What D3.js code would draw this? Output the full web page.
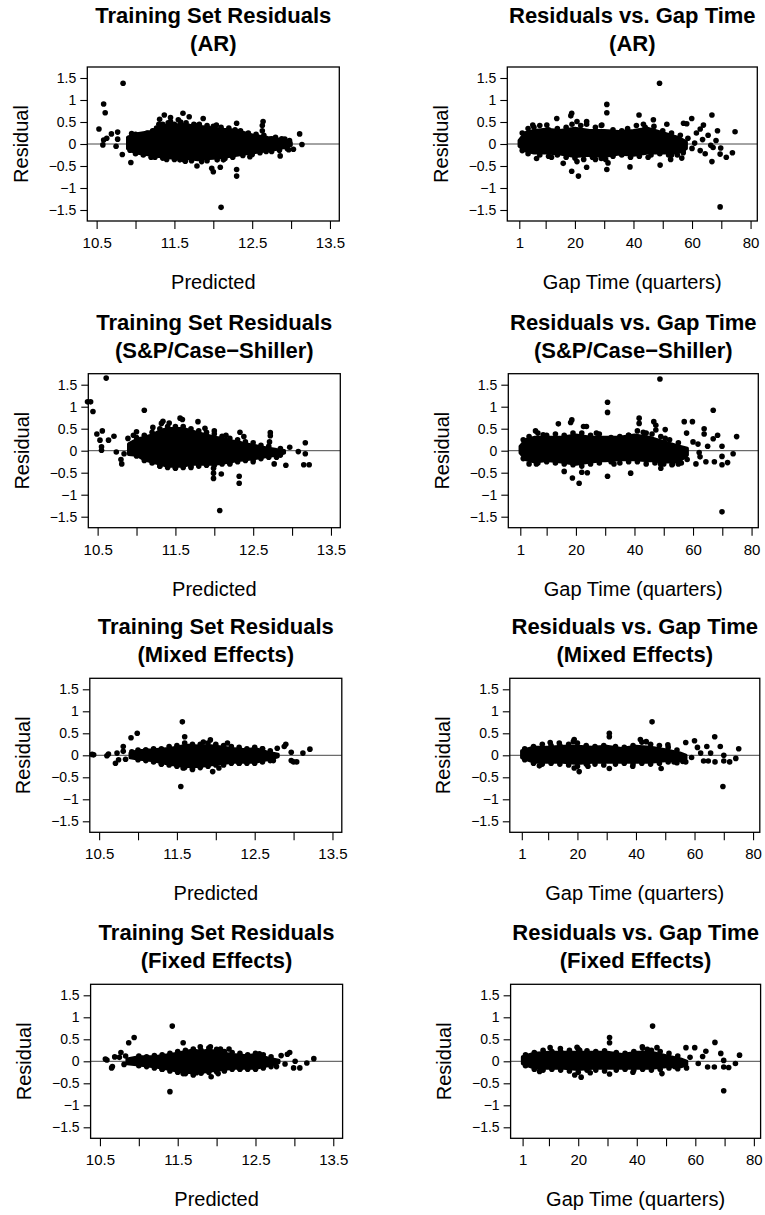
<!DOCTYPE html>
<html><head><meta charset="utf-8">
<script src="https://cdn.jsdelivr.net/npm/d3@7"></script>
<style>
body{margin:0;background:#fff}
svg{display:block}
text{font-family:"Liberation Sans",Arial,Helvetica,sans-serif;fill:#000}
</style>
</head><body>
<svg id="c" width="765" height="1215"></svg>
<script>
// ---------- text ----------
const rowModels = ["(AR)", "(S&P/Case\u2212Shiller)", "(Mixed Effects)", "(Fixed Effects)"];
const leftTitle = "Training Set Residuals";
const rightTitle = "Residuals vs. Gap Time";
const leftXLabel = "Predicted";
const rightXLabel = "Gap Time (quarters)";
const yLabel = "Residual";

// ---------- ticks ----------
const yTicks = [-1.5, -1, -0.5, 0, 0.5, 1, 1.5];
const predTicks = [10.5, 11, 11.5, 12, 12.5, 13, 13.5];
const predTickLabels = [10.5, 11.5, 12.5, 13.5];
const gapTicks = [1, 10, 20, 30, 40, 50, 60, 70, 80];
const gapTickLabels = [1, 20, 40, 60, 80];

// ---------- data: dense core of each cloud [x, lowResidual, highResidual] ----------
const arPredCore = [[10.9,-0.1,0.15],[11.0,-0.2,0.22],[11.1,-0.22,0.25],[11.2,-0.25,0.28],[11.3,-0.28,0.38],[11.4,-0.3,0.42],[11.5,-0.32,0.42],[11.6,-0.33,0.45],[11.7,-0.33,0.42],[11.8,-0.35,0.4],[11.9,-0.33,0.38],[12.0,-0.32,0.36],[12.1,-0.3,0.33],[12.2,-0.28,0.32],[12.3,-0.25,0.3],[12.4,-0.22,0.25],[12.5,-0.2,0.2],[12.6,-0.17,0.17],[12.7,-0.14,0.14],[12.8,-0.12,0.12],[12.9,-0.08,0.08],[13.0,-0.03,0.03]];
const arGapCore = [[1,-0.05,0.08],[3,-0.15,0.25],[6,-0.2,0.3],[10,-0.2,0.33],[15,-0.22,0.3],[20,-0.28,0.35],[25,-0.25,0.3],[30,-0.28,0.3],[35,-0.22,0.28],[40,-0.25,0.3],[45,-0.2,0.35],[50,-0.2,0.25],[55,-0.2,0.15],[58,-0.1,0.05]];
const spPredCore = [[10.9,-0.08,0.15],[11.0,-0.1,0.25],[11.1,-0.2,0.3],[11.2,-0.25,0.35],[11.3,-0.3,0.45],[11.4,-0.35,0.5],[11.5,-0.35,0.5],[11.6,-0.35,0.5],[11.7,-0.3,0.45],[11.8,-0.3,0.4],[11.9,-0.3,0.35],[12.0,-0.3,0.3],[12.1,-0.28,0.28],[12.2,-0.25,0.22],[12.3,-0.22,0.2],[12.4,-0.2,0.15],[12.5,-0.18,0.12],[12.6,-0.15,0.08],[12.7,-0.12,0.05],[12.8,-0.1,0.02],[12.9,-0.05,0.0]];
const spGapCore = [[1,-0.05,0.1],[3,-0.2,0.25],[6,-0.25,0.3],[10,-0.22,0.3],[15,-0.25,0.3],[20,-0.3,0.35],[25,-0.25,0.3],[30,-0.22,0.3],[35,-0.2,0.3],[40,-0.2,0.35],[45,-0.22,0.3],[50,-0.25,0.2],[55,-0.25,0.1],[58,-0.1,0.05]];
const mePredCore = [[10.9,-0.05,0.05],[11.0,-0.08,0.1],[11.2,-0.12,0.12],[11.4,-0.2,0.15],[11.5,-0.22,0.18],[11.6,-0.25,0.22],[11.7,-0.25,0.22],[11.8,-0.25,0.2],[11.9,-0.22,0.22],[12.0,-0.2,0.2],[12.1,-0.18,0.18],[12.2,-0.15,0.15],[12.4,-0.15,0.12],[12.5,-0.15,0.15],[12.6,-0.12,0.1],[12.7,-0.08,0.05],[12.8,-0.03,0.02]];
const meGapCore = [[1,-0.05,0.1],[5,-0.15,0.18],[10,-0.15,0.18],[15,-0.15,0.2],[20,-0.18,0.2],[25,-0.15,0.18],[30,-0.15,0.2],[35,-0.15,0.15],[40,-0.15,0.2],[45,-0.15,0.18],[50,-0.12,0.12],[55,-0.12,0.05],[57,-0.08,0.0]];
const fePredCore = [[10.85,-0.05,0.05],[11.0,-0.08,0.1],[11.2,-0.12,0.1],[11.4,-0.18,0.15],[11.5,-0.22,0.18],[11.6,-0.25,0.22],[11.7,-0.25,0.25],[11.8,-0.25,0.22],[11.9,-0.22,0.25],[12.0,-0.2,0.22],[12.1,-0.18,0.18],[12.2,-0.15,0.15],[12.4,-0.15,0.12],[12.5,-0.15,0.15],[12.6,-0.12,0.1],[12.7,-0.08,0.05],[12.8,-0.03,0.02]];
const feGapCore = [[1,-0.05,0.1],[5,-0.15,0.18],[10,-0.15,0.2],[15,-0.15,0.2],[20,-0.18,0.2],[25,-0.15,0.2],[30,-0.15,0.2],[35,-0.15,0.15],[40,-0.15,0.2],[45,-0.15,0.2],[50,-0.12,0.12],[55,-0.12,0.05],[57,-0.08,0.0]];

// ---------- data: points on the ragged edge of each cloud [x, residual] ----------
const arPredEdge = [[11.0,0.22],[11.05,0.2],[11.15,0.25],[11.22,0.3],[11.35,0.45],[11.42,0.48],[11.5,0.45],[11.58,0.5],[11.65,0.48],[11.75,0.45],[11.82,0.45],[11.92,0.42],[12.0,0.4],[12.1,0.38],[12.2,0.36],[12.28,0.32],[12.35,0.3],[12.45,0.25],[12.55,0.22],[12.65,0.2],[12.8,0.15],[12.88,0.12],[12.98,0.08],[11.0,-0.22],[11.1,-0.25],[11.25,-0.3],[11.35,-0.32],[11.5,-0.35],[11.62,-0.36],[11.72,-0.38],[11.85,-0.4],[11.92,-0.38],[12.05,-0.36],[12.15,-0.33],[12.25,-0.3],[12.38,-0.26],[12.5,-0.24],[12.6,-0.2],[12.75,-0.17],[12.85,-0.14],[12.95,-0.1]];
const arGapEdge = [[2,0.25],[4,0.35],[6,0.38],[8,0.42],[11,0.32],[14,0.35],[17,0.38],[19,0.45],[22,0.42],[24,0.45],[27,0.38],[29,0.42],[33,0.32],[36,0.3],[38,0.35],[41,0.42],[44,0.38],[47,0.4],[50,0.3],[53,0.25],[56,0.2],[2,-0.15],[4,-0.22],[8,-0.25],[11,-0.28],[14,-0.25],[17,-0.3],[20,-0.32],[23,-0.35],[26,-0.3],[29,-0.33],[33,-0.28],[36,-0.25],[39,-0.3],[42,-0.28],[46,-0.25],[49,-0.22],[52,-0.25],[55,-0.25],[57,-0.15]];
const spPredEdge = [[11.0,0.3],[11.1,0.35],[11.2,0.42],[11.3,0.5],[11.4,0.55],[11.5,0.55],[11.6,0.55],[11.7,0.5],[11.8,0.45],[11.9,0.42],[12.0,0.38],[12.1,0.33],[12.2,0.28],[12.3,0.25],[12.4,0.2],[12.5,0.18],[12.6,0.12],[12.7,0.1],[12.85,0.05],[11.0,-0.12],[11.1,-0.22],[11.2,-0.28],[11.3,-0.35],[11.4,-0.38],[11.5,-0.38],[11.6,-0.38],[11.7,-0.35],[11.8,-0.35],[11.9,-0.33],[12.0,-0.33],[12.1,-0.3],[12.2,-0.28],[12.3,-0.25],[12.4,-0.22],[12.5,-0.2],[12.6,-0.18],[12.7,-0.15],[12.85,-0.1]];
const spGapEdge = [[2,0.25],[4,0.32],[7,0.4],[10,0.35],[13,0.38],[16,0.35],[19,0.4],[22,0.4],[25,0.35],[28,0.38],[32,0.3],[35,0.32],[38,0.35],[41,0.45],[43,0.42],[46,0.38],[49,0.32],[52,0.25],[55,0.18],[2,-0.18],[4,-0.3],[7,-0.28],[10,-0.25],[13,-0.28],[16,-0.3],[19,-0.32],[22,-0.35],[25,-0.3],[28,-0.28],[32,-0.25],[35,-0.28],[38,-0.25],[41,-0.25],[44,-0.3],[47,-0.28],[50,-0.3],[53,-0.3],[56,-0.28]];
const mePredEdge = [[11.0,0.12],[11.1,0.12],[11.2,0.15],[11.3,0.15],[11.4,0.2],[11.5,0.22],[11.6,0.28],[11.7,0.25],[11.8,0.25],[11.9,0.28],[12.0,0.25],[12.1,0.22],[12.2,0.2],[12.3,0.18],[12.4,0.15],[12.5,0.18],[12.6,0.15],[12.7,0.1],[11.0,-0.1],[11.1,-0.12],[11.2,-0.15],[11.3,-0.2],[11.4,-0.22],[11.5,-0.25],[11.6,-0.28],[11.7,-0.3],[11.8,-0.28],[11.9,-0.25],[12.0,-0.22],[12.1,-0.22],[12.2,-0.18],[12.3,-0.18],[12.4,-0.18],[12.5,-0.18],[12.6,-0.15],[12.7,-0.12]];
const meGapEdge = [[2,0.15],[5,0.2],[8,0.25],[11,0.22],[14,0.22],[17,0.25],[20,0.28],[23,0.22],[26,0.2],[29,0.22],[33,0.2],[36,0.18],[39,0.22],[42,0.3],[45,0.25],[48,0.22],[51,0.18],[54,0.12],[2,-0.1],[5,-0.18],[8,-0.2],[11,-0.18],[14,-0.2],[17,-0.22],[20,-0.25],[23,-0.2],[26,-0.2],[29,-0.22],[33,-0.2],[36,-0.18],[39,-0.2],[42,-0.18],[45,-0.2],[48,-0.18],[51,-0.15],[54,-0.17],[57,-0.15]];
const fePredEdge = [[11.0,0.12],[11.1,0.1],[11.2,0.13],[11.3,0.15],[11.4,0.18],[11.5,0.22],[11.6,0.25],[11.7,0.28],[11.8,0.25],[11.9,0.3],[12.0,0.27],[12.1,0.22],[12.2,0.2],[12.3,0.18],[12.4,0.15],[12.5,0.18],[12.6,0.15],[12.7,0.1],[11.0,-0.1],[11.1,-0.12],[11.2,-0.15],[11.3,-0.18],[11.4,-0.22],[11.5,-0.25],[11.6,-0.28],[11.7,-0.28],[11.8,-0.27],[11.9,-0.25],[12.0,-0.24],[12.1,-0.22],[12.2,-0.18],[12.3,-0.18],[12.4,-0.18],[12.5,-0.18],[12.6,-0.15],[12.7,-0.12]];
const feGapEdge = [[2,0.15],[5,0.2],[8,0.25],[11,0.22],[14,0.22],[17,0.25],[20,0.28],[23,0.24],[26,0.22],[29,0.24],[33,0.2],[36,0.18],[39,0.22],[42,0.3],[45,0.25],[48,0.22],[51,0.18],[54,0.12],[2,-0.1],[5,-0.18],[8,-0.2],[11,-0.18],[14,-0.2],[17,-0.22],[20,-0.25],[23,-0.2],[26,-0.2],[29,-0.22],[33,-0.2],[36,-0.18],[39,-0.2],[42,-0.18],[45,-0.2],[48,-0.18],[51,-0.15],[54,-0.17],[57,-0.15]];

// ---------- data: individually visible points [x, residual] ----------
const arPredPts = [[10.84,1.38],[10.59,0.91],[10.61,0.71],[10.53,0.34],[10.59,0.09],[10.58,-0.02],[10.63,0.13],[10.69,0.23],[10.77,0.27],[10.77,0.11],[10.75,-0.05],[10.83,-0.24],[10.94,-0.42],[10.93,-0.14],[10.95,0.24],[11.27,0.36],[11.31,0.56],[11.37,0.66],[11.45,0.51],[11.55,0.55],[11.61,0.70],[11.69,0.62],[11.87,0.58],[11.76,0.43],[12.04,0.43],[12.30,0.47],[12.64,0.51],[12.63,0.42],[12.63,0.30],[12.51,0.17],[12.75,0.12],[12.92,0.11],[13.11,0.23],[13.14,-0.01],[13.03,-0.12],[12.97,-0.13],[12.86,-0.27],[11.57,-0.36],[11.64,-0.39],[11.79,-0.50],[11.98,-0.55],[12.0,-0.63],[12.09,-0.53],[12.30,-0.58],[12.30,-0.73],[12.10,-1.44],[12.13,-0.36],[12.47,-0.29],[12.68,-0.17],[11.2,-0.3],[11.4,-0.35],[11.3,0.45],[11.45,0.6]];
const arGapPts = [[48.9,1.38],[69.6,-1.43],[30.9,0.90],[30.9,0.71],[18.9,0.70],[18.6,0.64],[13.8,0.58],[41.9,0.66],[46.8,0.55],[57.1,0.47],[58.2,0.46],[59.9,0.58],[66.8,0.66],[63.9,0.43],[68.7,0.30],[74.7,0.28],[73.8,-0.20],[71.7,-0.30],[66.8,-0.40],[69.6,-0.23],[49.1,-0.48],[52.7,-0.35],[56.5,-0.32],[38.8,-0.52],[30.9,-0.58],[31.3,-0.43],[30.5,-0.35],[24.0,-0.53],[21.2,-0.73],[18.9,-0.62],[16.0,-0.44],[6.9,-0.33],[20.7,-0.40],[62.8,0.34],[63.6,0.10],[66.4,-0.03],[62.8,-0.15],[64.5,-0.22],[67.2,-0.08],[68.2,0.08],[69.8,-0.09],[55.7,-0.03],[58.6,0.13],[60.9,0.02],[50.6,0.19],[51.4,0.45],[43.4,0.45],[10.4,0.43],[5.6,0.43],[24.0,0.51],[20.7,0.51],[29.2,0.43],[61.5,0.25],[65.5,0.2],[60,-0.1],[57,-0.2],[53,-0.25],[45,-0.3],[12,-0.3],[27,-0.35]];
const spPredPts = [[10.37,1.11],[10.41,1.11],[10.44,0.89],[10.61,1.65],[10.49,0.38],[10.53,0.24],[10.56,0.45],[10.55,0.09],[10.55,0.01],[10.64,0.24],[10.71,0.33],[10.74,-0.03],[10.80,-0.20],[10.81,-0.30],[10.84,-0.07],[10.89,0.28],[10.96,0.35],[11.0,0.43],[11.10,0.92],[11.21,0.53],[11.32,0.62],[11.34,0.67],[11.56,0.74],[11.59,0.71],[11.79,0.66],[11.88,0.51],[11.42,0.63],[11.99,-0.40],[11.99,-0.51],[11.99,-0.63],[12.09,-0.53],[12.07,-1.36],[12.32,-0.58],[12.32,-0.74],[12.33,0.42],[12.38,0.32],[12.72,0.41],[12.72,0.34],[12.71,0.2],[12.97,0.08],[12.92,-0.33],[13.08,-0.02],[13.17,0.18],[13.17,-0.07],[13.15,-0.32],[13.22,-0.32],[12.8,-0.15],[12.77,-0.30],[11.3,-0.35],[11.5,-0.4],[11.7,-0.38],[12.2,-0.3],[12.5,-0.25],[12.0,0.45],[12.15,0.35]];
const spGapPts = [[48.7,1.63],[30.8,1.10],[30.8,0.87],[30.8,-0.58],[69.9,-1.39],[66.9,0.92],[74.9,0.32],[73.7,-0.07],[71.8,-0.27],[69.9,-0.32],[69.9,-0.13],[69.9,0.10],[68.4,0.35],[66.9,0.27],[59.8,0.66],[57.0,0.66],[57.8,0.40],[63.8,0.50],[63.8,0.38],[61.7,0.15],[62.1,-0.04],[61.0,-0.30],[62.4,-0.14],[64.4,-0.25],[67.3,-0.25],[47.3,0.58],[47.3,0.47],[50.5,0.48],[50.5,0.28],[46.6,0.66],[41.6,0.74],[41.6,0.62],[49.0,-0.40],[48.9,-0.30],[52.8,-0.32],[38.7,-0.51],[38.0,0.35],[22.0,-0.49],[21.1,-0.74],[18.8,-0.62],[16.0,-0.47],[23.9,-0.50],[23.6,0.55],[22.6,0.55],[18.6,0.70],[18.2,0.64],[14.0,0.61],[8.8,0.36],[6.2,0.45],[6.5,-0.30],[55,-0.3],[58,-0.2],[52,0.1],[54,-0.1],[65,0.1],[60,0.2],[44,0.4],[27,0.4],[33,-0.3]];
const mePredPts = [[10.41,0.02],[10.43,0.01],[10.60,-0.01],[10.62,0.03],[10.73,0.05],[10.71,-0.18],[10.75,-0.10],[10.81,0.20],[10.81,0.09],[10.91,0.40],[10.99,0.50],[10.84,-0.09],[10.92,0.08],[11.57,0.76],[11.55,-0.71],[11.60,0.42],[11.58,-0.29],[11.70,-0.32],[11.93,0.35],[11.96,-0.37],[12.04,-0.29],[11.84,0.30],[12.15,0.28],[12.90,0.25],[12.88,0.20],[12.79,0.16],[12.97,0.07],[13.0,-0.15],[13.04,-0.15],[12.97,-0.12],[13.12,0.05],[13.21,0.14],[12.74,-0.12],[11.3,-0.2],[11.1,0.12],[12.3,-0.18],[12.6,0.15]];
const meGapPts = [[45.5,0.76],[69.7,-0.71],[30.9,0.50],[30.9,0.42],[30.9,-0.30],[18.9,0.36],[18.6,0.31],[10.7,0.29],[13.8,0.28],[7.0,-0.24],[18.9,-0.29],[20.6,-0.37],[23.6,-0.25],[38.9,-0.25],[41.5,0.36],[43.5,0.31],[48.6,-0.30],[50.9,0.24],[57.0,0.29],[60.0,0.33],[66.9,0.42],[68.8,0.20],[70.0,-0.13],[70.0,0.0],[72.0,-0.15],[74.1,-0.07],[75.1,0.15],[64.2,0.20],[64.7,-0.13],[67.0,-0.15],[63.1,-0.13],[56.0,-0.14],[61.0,0.18],[62.1,0.05],[59,-0.05],[53,-0.15],[65.5,0.05]];
const fePredPts = [[10.57,0.05],[10.59,0.03],[10.66,-0.12],[10.65,-0.15],[10.75,0.09],[10.77,0.20],[10.69,0.10],[10.87,0.42],[10.94,0.54],[10.81,-0.07],[10.87,0.0],[10.83,0.12],[11.43,0.80],[11.40,-0.69],[11.57,0.42],[11.57,-0.28],[11.70,-0.31],[11.74,-0.26],[11.79,0.33],[11.93,-0.35],[12.02,-0.28],[11.92,0.33],[12.05,0.28],[12.16,0.28],[12.83,0.13],[12.91,0.16],[12.94,0.20],[12.88,-0.06],[13.01,0.0],[12.99,-0.15],[13.07,-0.15],[13.16,-0.04],[13.25,0.06],[12.77,-0.12],[11.3,-0.18],[12.3,-0.17],[12.55,0.17]];
const feGapPts = [[45.4,0.80],[69.7,-0.67],[30.7,0.54],[30.7,0.42],[30.7,-0.29],[19.6,0.32],[20.5,0.25],[10.4,0.31],[13.9,0.29],[6.8,-0.23],[18.8,-0.31],[21.0,-0.36],[24.1,-0.26],[38.7,-0.25],[41.9,0.33],[43.6,0.27],[48.6,-0.28],[46.9,0.31],[56.8,0.31],[59.8,0.31],[66.7,0.43],[68.7,0.18],[69.7,-0.13],[69.7,0.02],[71.4,-0.14],[73.7,-0.05],[75.1,0.14],[64.2,-0.13],[66.5,-0.13],[62.5,0.11],[63.6,0.23],[55.5,-0.05],[58.2,0.09],[53,-0.12],[61,-0.05]];

// ---------- layout ----------
const svg = d3.select("#c");
const rowZero = [144, 450.7, 755.3, 1061.3];
const rowShift = [0, 1, 2.5, 3.3];
const cols = [
  {left: 87.3, width: 252, domain: [10.38, 13.62], ticks: predTicks, labels: predTickLabels, title: leftTitle, xlab: leftXLabel},
  {left: 507.3, width: 250, domain: [-3.1, 82.3], ticks: gapTicks, labels: gapTickLabels, title: rightTitle, xlab: rightXLabel}
];
const panels = [
  {row:0, col:0, core:arPredCore, edge:arPredEdge, pts:arPredPts}, {row:0, col:1, core:arGapCore, edge:arGapEdge, pts:arGapPts},
  {row:1, col:0, core:spPredCore, edge:spPredEdge, pts:spPredPts}, {row:1, col:1, core:spGapCore, edge:spGapEdge, pts:spGapPts},
  {row:2, col:0, core:mePredCore, edge:mePredEdge, pts:mePredPts}, {row:2, col:1, core:meGapCore, edge:meGapEdge, pts:meGapPts},
  {row:3, col:0, core:fePredCore, edge:fePredEdge, pts:fePredPts}, {row:3, col:1, core:feGapCore, edge:feGapEdge, pts:feGapPts}
];
const fmt = d3.format("");

panels.forEach(p => {
  const c = cols[p.col];
  const L = c.left + rowShift[p.row], R = L + c.width;
  const z = rowZero[p.row], top = z - 77, bot = z + 77;
  const x = d3.scaleLinear().domain(c.domain).range([L, R]);
  const y = d3.scaleLinear().domain([-1.75, 1.75]).range([bot, top]);
  const g = svg.append("g");

  // zero reference line
  g.append("line").attr("x1", L).attr("x2", R).attr("y1", y(0)).attr("y2", y(0))
    .attr("stroke", "#333").attr("stroke-width", 0.9);

  // dense core of the point cloud
  const area = d3.area().x(d => x(d[0])).y0(d => y(d[1])).y1(d => y(d[2]));
  g.append("path").datum(p.core).attr("d", area)
    .attr("fill", "#000").attr("stroke", "#000").attr("stroke-width", 3.5).attr("stroke-linejoin", "round");

  // individual points (cloud edge + scattered)
  g.selectAll("circle.pt").data(p.edge.concat(p.pts)).enter().append("circle").attr("class", "pt")
    .attr("cx", d => x(d[0])).attr("cy", d => y(d[1])).attr("r", 2.8).attr("fill", "#000");

  // box
  g.append("rect").attr("x", L).attr("y", top).attr("width", R - L).attr("height", bot - top)
    .attr("fill", "none").attr("stroke", "#000").attr("stroke-width", 1.3);

  // y axis
  const ya = g.append("g").attr("transform", `translate(${L},0)`)
    .call(d3.axisLeft(y).tickValues(yTicks).tickSize(7).tickPadding(4).tickFormat(fmt));
  ya.select(".domain").remove();
  ya.selectAll(".tick line").attr("stroke", "#000").attr("stroke-width", 1.1);
  ya.selectAll(".tick text").attr("font-size", 14).attr("font-family", "Liberation Sans, Arial, sans-serif").attr("fill", "#000");

  // x axis
  const xa = g.append("g").attr("transform", `translate(0,${bot})`)
    .call(d3.axisBottom(x).tickValues(c.ticks).tickSize(8).tickFormat(d => c.labels.includes(d) ? fmt(d) : ""));
  xa.select(".domain").remove();
  xa.selectAll(".tick line").attr("stroke", "#000").attr("stroke-width", 1.1);
  xa.selectAll(".tick text").attr("y", 27).attr("dy", 0).attr("font-size", 15)
    .attr("font-family", "Liberation Sans, Arial, sans-serif").attr("fill", "#000");

  // titles
  const cx = (L + R) / 2;
  g.append("text").attr("x", cx).attr("y", z - 121).attr("text-anchor", "middle")
    .attr("font-size", 22).attr("font-weight", "bold").text(c.title);
  g.append("text").attr("x", cx).attr("y", z - 93).attr("text-anchor", "middle")
    .attr("font-size", 22).attr("font-weight", "bold").text(rowModels[p.row]);

  // axis titles
  g.append("text").attr("x", cx).attr("y", z + 145).attr("text-anchor", "middle")
    .attr("font-size", 20).text(c.xlab);
  g.append("text").attr("transform", `translate(${L - 59.5},${z}) rotate(-90)`)
    .attr("text-anchor", "middle").attr("font-size", 20).text(yLabel);
});
</script>
</body></html>
